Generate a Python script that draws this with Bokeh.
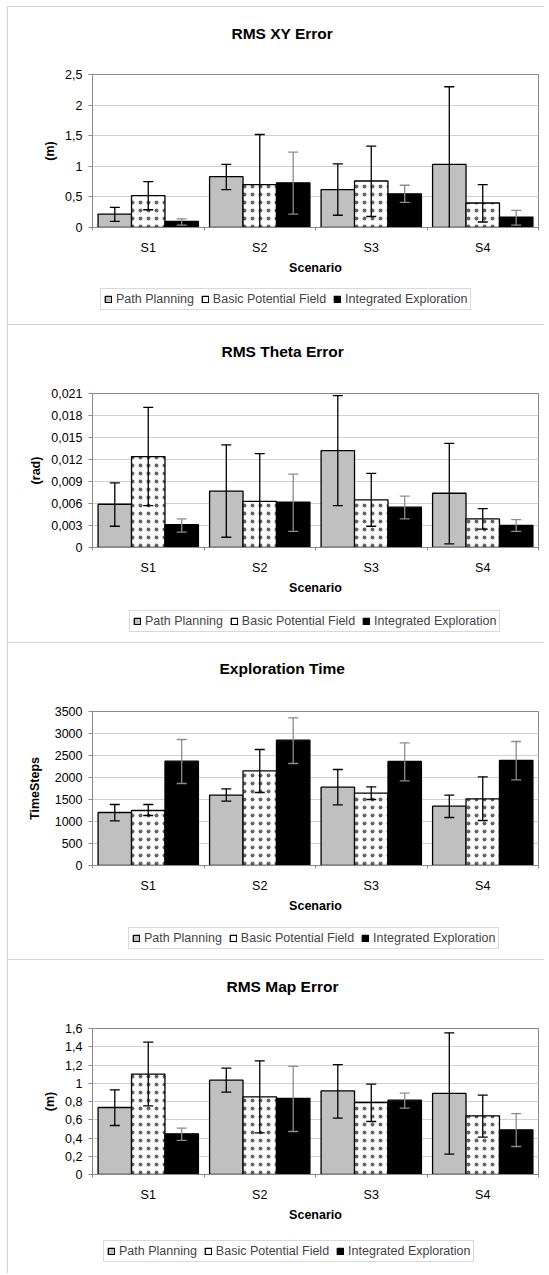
from bokeh.plotting import figure
from bokeh.models import (Range1d, FixedTicker, Legend, LegendItem, Whisker, TeeHead,
                          ColumnDataSource, Label)
from bokeh.layouts import column
from bokeh.embed import file_html
from bokeh.resources import INLINE

# ---------------- data ----------------
categories = ["S1", "S2", "S3", "S4"]
series = ["Path Planning", "Basic Potential Field", "Integrated Exploration"]

# RMS XY Error (m)
xy_pp = [0.22, 0.83, 0.62, 1.03]
xy_pp_lo = [0.10, 0.62, 0.20, -0.24]
xy_pp_hi = [0.33, 1.03, 1.04, 2.30]
xy_bpf = [0.52, 0.70, 0.76, 0.40]
xy_bpf_lo = [0.29, -0.12, 0.18, 0.09]
xy_bpf_hi = [0.75, 1.52, 1.33, 0.70]
xy_ie = [0.10, 0.73, 0.55, 0.17]
xy_ie_lo = [0.04, 0.22, 0.41, 0.04]
xy_ie_hi = [0.14, 1.23, 0.69, 0.28]
xy_ticks = [0, 0.5, 1, 1.5, 2, 2.5]
xy_tick_labels = ["0", "0,5", "1", "1,5", "2", "2,5"]

# RMS Theta Error (rad)
th_pp = [0.0059, 0.0077, 0.0132, 0.0074]
th_pp_lo = [0.0029, 0.0014, 0.0057, 0.0005]
th_pp_hi = [0.0088, 0.0140, 0.0207, 0.0142]
th_bpf = [0.0124, 0.0063, 0.0065, 0.0039]
th_bpf_lo = [0.0057, -0.0002, 0.0029, 0.0025]
th_bpf_hi = [0.0191, 0.0128, 0.0101, 0.0053]
th_ie = [0.0031, 0.0062, 0.0055, 0.0030]
th_ie_lo = [0.0021, 0.0022, 0.0039, 0.0022]
th_ie_hi = [0.0039, 0.0100, 0.0070, 0.0038]
th_ticks = [0, 0.003, 0.006, 0.009, 0.012, 0.015, 0.018, 0.021]
th_tick_labels = ["0", "0,003", "0,006", "0,009", "0,012", "0,015", "0,018", "0,021"]

# Exploration Time (TimeSteps)
t_pp = [1205, 1598, 1780, 1348]
t_pp_lo = [1015, 1462, 1379, 1091]
t_pp_hi = [1386, 1742, 2182, 1598]
t_bpf = [1250, 2152, 1644, 1515]
t_bpf_lo = [1136, 1659, 1500, 1023]
t_bpf_hi = [1386, 2636, 1788, 2015]
t_ie = [2371, 2848, 2364, 2386]
t_ie_lo = [1864, 2318, 1924, 1947]
t_ie_hi = [2864, 3356, 2788, 2818]
t_ticks = [0, 500, 1000, 1500, 2000, 2500, 3000, 3500]
t_tick_labels = ["0", "500", "1000", "1500", "2000", "2500", "3000", "3500"]

# RMS Map Error (m)
m_pp = [0.734, 1.034, 0.917, 0.888]
m_pp_lo = [0.537, 0.902, 0.617, 0.223]
m_pp_hi = [0.928, 1.165, 1.205, 1.553]
m_bpf = [1.10, 0.851, 0.789, 0.643]
m_bpf_lo = [0.753, 0.457, 0.581, 0.409]
m_bpf_hi = [1.45, 1.246, 0.99, 0.869]
m_ie = [0.446, 0.833, 0.815, 0.49]
m_ie_lo = [0.373, 0.471, 0.727, 0.307]
m_ie_hi = [0.508, 1.184, 0.891, 0.668]
m_ticks = [0, 0.2, 0.4, 0.6, 0.8, 1, 1.2, 1.4, 1.6]
m_tick_labels = ["0", "0,2", "0,4", "0,6", "0,8", "1", "1,2", "1,4", "1,6"]

# ---------------- styling ----------------
FONT = "Liberation Sans"
FILLS = ["#c0c0c0", "white", "black"]
ERR_COLORS = ["black", "black", "#8c8c8c"]
BAR_W = 0.3
FIG_W = 536
B_LEFT = 84
FRAME_W = 446
B_RIGHT = FIG_W - B_LEFT - FRAME_W
B_TOP = 12
B_BOTTOM = 53
HATCH = dict(hatch_pattern="dot", hatch_color="black", hatch_scale=8,
             hatch_weight=0.8, hatch_alpha=0.6)
WHITE_BG = {"background-color": "white"}


def bar_style(j, hatch=True):
    kw = dict(fill_color=FILLS[j], line_color="black", line_width=1.3)
    if j == 1 and hatch:
        kw.update(HATCH)
    return kw


def bar_x(j):
    return [i + 0.5 + (j - 1) * BAR_W for i in range(len(categories))]


def make_title(text, fig_h, tx, ty):
    q = figure(width=FIG_W, height=fig_h, x_range=Range1d(0, FRAME_W), y_range=Range1d(0, fig_h),
               x_axis_type=None, y_axis_type=None, output_backend="svg", toolbar_location=None,
               min_border_left=B_LEFT, min_border_right=B_RIGHT, min_border_top=0,
               min_border_bottom=0, margin=(1, 0, 0, 1), styles=WHITE_BG)
    q.outline_line_color = None
    q.xgrid.visible = False
    q.ygrid.visible = False
    q.add_layout(Label(x=tx, y=ty, text=text, text_font=FONT, text_font_size="15.5px",
                       text_font_style="bold", text_color="black",
                       text_align="left", text_baseline="middle"))
    return q


def make_chart(ylabel, vals, los, his, ticks, tick_labels, frame_h, ylabel_standoff=5):
    fig_h = B_TOP + frame_h + B_BOTTOM
    p = figure(width=FIG_W, height=fig_h,
               x_range=Range1d(0, len(categories)), y_range=Range1d(ticks[0], ticks[-1]),
               output_backend="svg", toolbar_location=None,
               min_border_left=B_LEFT, min_border_right=B_RIGHT,
               min_border_top=B_TOP, min_border_bottom=B_BOTTOM,
               margin=(0, 0, 0, 1), styles=WHITE_BG)
    p.outline_line_color = "#8a8a8a"
    p.outline_line_width = 1
    p.background_fill_color = "white"
    p.border_fill_color = "white"

    for j, name in enumerate(series):
        src = ColumnDataSource(dict(x=bar_x(j), top=vals[j]))
        p.vbar(x="x", top="top", bottom=0, width=BAR_W, source=src, **bar_style(j))

    for j in range(len(series)):
        full = dict(x=[], lo=[], hi=[])
        clip = dict(x=[], lo=[], hi=[])
        for x, lo, hi in zip(bar_x(j), los[j], his[j]):
            d = full if lo > ticks[0] else clip
            d["x"].append(x)
            d["lo"].append(max(lo, ticks[0]))
            d["hi"].append(hi)
        col = ERR_COLORS[j]
        for d, has_low in ((full, True), (clip, False)):
            if not d["x"]:
                continue
            w = Whisker(source=ColumnDataSource(d), base="x", lower="lo", upper="hi",
                        line_color=col, line_width=1.3, level="overlay",
                        upper_head=TeeHead(size=10, line_color=col, line_width=1.3),
                        lower_head=TeeHead(size=10, line_color=col, line_width=1.3) if has_low else None)
            p.add_layout(w)

    ya = p.yaxis[0]
    ya.ticker = FixedTicker(ticks=ticks)
    ya.major_label_overrides = {t: lab for t, lab in zip(ticks, tick_labels)}
    ya.axis_label = ylabel
    ya.axis_label_text_font = FONT
    ya.axis_label_text_font_size = "12.5px"
    ya.axis_label_text_font_style = "bold"
    ya.axis_label_text_color = "black"
    ya.axis_label_standoff = ylabel_standoff
    ya.major_label_text_font = FONT
    ya.major_label_text_font_size = "12.5px"
    ya.major_label_text_color = "black"
    ya.major_label_standoff = 6
    ya.major_tick_out = 4
    ya.major_tick_in = 0
    ya.minor_tick_out = 0
    ya.axis_line_color = "#8a8a8a"
    ya.major_tick_line_color = "#8a8a8a"

    xa = p.xaxis[0]
    centers = [i + 0.5 for i in range(len(categories))]
    xa.ticker = FixedTicker(ticks=centers, minor_ticks=list(range(len(categories) + 1)))
    xa.major_label_overrides = {c: lab for c, lab in zip(centers, categories)}
    xa.axis_label = "Scenario"
    xa.axis_label_text_font = FONT
    xa.axis_label_text_font_size = "12.5px"
    xa.axis_label_text_font_style = "bold"
    xa.axis_label_text_color = "black"
    xa.axis_label_standoff = 3
    xa.major_label_text_font = FONT
    xa.major_label_text_font_size = "12.5px"
    xa.major_label_text_color = "black"
    xa.major_label_standoff = 10
    xa.major_tick_out = 0
    xa.major_tick_in = 0
    xa.minor_tick_out = 3
    xa.minor_tick_in = 0
    xa.minor_tick_line_color = "#8a8a8a"
    xa.axis_line_color = "#8a8a8a"

    p.xgrid.visible = False
    p.ygrid.grid_line_color = "#d0d0d0"
    p.ygrid.grid_line_width = 1
    return p


def make_legend(vals, fig_h, leg_x, leg_y):
    # legend-only stand-ins: series values with no base, so no bar is drawn here
    q = figure(width=FIG_W, height=fig_h, x_range=Range1d(-10, -9),
               y_range=Range1d(-2, -1), x_axis_type=None, y_axis_type=None,
               output_backend="svg", toolbar_location=None,
               min_border_left=B_LEFT, min_border_right=B_RIGHT, min_border_top=0,
               min_border_bottom=0, margin=(0, 0, 0, 1), styles=WHITE_BG)
    q.outline_line_color = None
    q.xgrid.visible = False
    q.ygrid.visible = False
    rs = []
    for j, v in enumerate(vals):
        src = ColumnDataSource(dict(x=bar_x(j), top=v, bottom=[float("nan")] * len(v)))
        rs.append(q.vbar(x="x", top="top", bottom="bottom", width=BAR_W, source=src,
                         **bar_style(j, hatch=False)))
    legend = Legend(items=[LegendItem(label=s, renderers=[r]) for s, r in zip(series, rs)],
                    orientation="horizontal", location=(leg_x, leg_y),
                    label_text_font=FONT, label_text_font_size="12.5px",
                    glyph_width=8, glyph_height=8, label_height=12, label_width=10,
                    label_standoff=4, spacing=7, padding=3, margin=0,
                    border_line_color="#b4b4b4", border_line_width=1,
                    background_fill_color="white", background_fill_alpha=1)
    q.add_layout(legend)
    return q


xy_vals = [xy_pp, xy_bpf, xy_ie]
th_vals = [th_pp, th_bpf, th_ie]
t_vals = [t_pp, t_bpf, t_ie]
m_vals = [m_pp, m_bpf, m_ie]

t1 = make_title("RMS XY Error", 55, 139, 29)
p1 = make_chart("(m)", xy_vals, [xy_pp_lo, xy_bpf_lo, xy_ie_lo],
                [xy_pp_hi, xy_bpf_hi, xy_ie_hi], xy_ticks, xy_tick_labels, frame_h=153)
l1 = make_legend(xy_vals, 44, 8, 14)

t2 = make_title("RMS Theta Error", 56, 129, 30)
p2 = make_chart("(rad)", th_vals, [th_pp_lo, th_bpf_lo, th_ie_lo],
                [th_pp_hi, th_bpf_hi, th_ie_hi], th_ticks, th_tick_labels, frame_h=154)
l2 = make_legend(th_vals, 42, 37, 10)

t3 = make_title("Exploration Time", 56, 127, 31)
p3 = make_chart("TimeSteps", t_vals, [t_pp_lo, t_bpf_lo, t_ie_lo],
                [t_pp_hi, t_bpf_hi, t_ie_hi], t_ticks, t_tick_labels, frame_h=154,
                ylabel_standoff=10)
l3 = make_legend(t_vals, 41, 36, 10)

t4 = make_title("RMS Map Error", 56, 134, 30)
p4 = make_chart("(m)", m_vals, [m_pp_lo, m_bpf_lo, m_ie_lo],
                [m_pp_hi, m_bpf_hi, m_ie_hi], m_ticks, m_tick_labels, frame_h=146)
l4 = make_legend(m_vals, 46, 11, 11)

layout = column(t1, p1, l1, t2, p2, l2, t3, p3, l3, t4, p4, l4, spacing=0,
                margin=(6, 0, 0, 7), styles={"background-color": "#d4d4d4"})

open("out.html", "w").write(file_html(layout, INLINE))
